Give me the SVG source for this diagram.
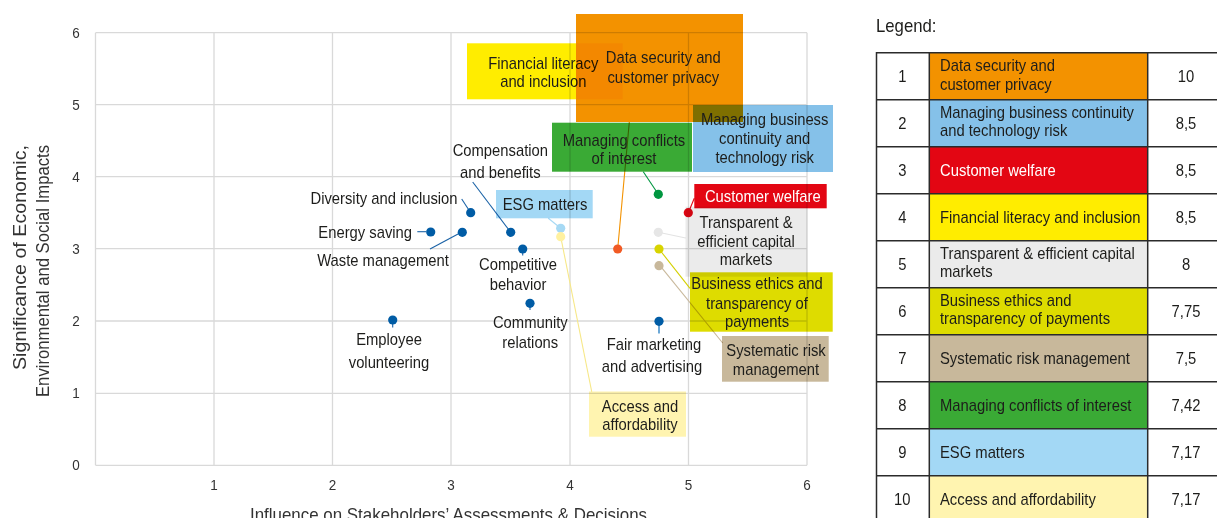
<svg xmlns="http://www.w3.org/2000/svg" width="1217" height="518" viewBox="0 0 1217 518">
<style>
text { font-family: "Liberation Sans", Arial, sans-serif; fill: #1d1d1b; }
.lbl { font-size: 17px; text-anchor: middle; }
.lg { font-size: 17px; }
.num { font-size: 17px; text-anchor: middle; }
.tick { font-size: 15px; text-anchor: middle; fill: #333333; }
.title { font-size: 18.5px; text-anchor: middle; fill: #333333; }
.grid { stroke: #d9d9d9; stroke-width: 1.3; fill: none; }
.box { mix-blend-mode: multiply; }
.lead { fill: none; stroke-width: 1.1; }
.bl { stroke: #1a62a6; }
.pt { fill: #005ca5; }
.cell { stroke: #2b2b2b; stroke-width: 1.5; fill: none; }
</style>
<rect x="0" y="0" width="1217" height="518" fill="#ffffff"/>
<g id="grid" class="grid">
<path d="M95.5,32.7V465.3M214,32.7V465.3M332.5,32.7V465.3M451,32.7V465.3M570,32.7V465.3M688.5,32.7V465.3M807,32.7V465.3"/>
<path d="M95.5,32.7H807M95.5,104.7H807M95.5,176.7H807M95.5,248.7H807M95.5,321H807M95.5,393.3H807M95.5,465.3H807"/>
</g>
<g id="axes">
<text class="tick" transform="translate(76,38) scale(0.9,1)">6</text>
<text class="tick" transform="translate(76,110) scale(0.9,1)">5</text>
<text class="tick" transform="translate(76,182) scale(0.9,1)">4</text>
<text class="tick" transform="translate(76,254) scale(0.9,1)">3</text>
<text class="tick" transform="translate(76,326) scale(0.9,1)">2</text>
<text class="tick" transform="translate(76,398) scale(0.9,1)">1</text>
<text class="tick" transform="translate(76,470) scale(0.9,1)">0</text>
<text class="tick" transform="translate(214,490) scale(0.9,1)">1</text>
<text class="tick" transform="translate(332.5,490) scale(0.9,1)">2</text>
<text class="tick" transform="translate(451,490) scale(0.9,1)">3</text>
<text class="tick" transform="translate(570,490) scale(0.9,1)">4</text>
<text class="tick" transform="translate(688.5,490) scale(0.9,1)">5</text>
<text class="tick" transform="translate(807,490) scale(0.9,1)">6</text>
<text class="title" x="448.5" y="521" textLength="397" lengthAdjust="spacingAndGlyphs">Influence on Stakeholders’ Assessments &amp; Decisions</text>
<text class="title" transform="translate(26,257.5) rotate(-90)" textLength="225" lengthAdjust="spacingAndGlyphs">Significance of Economic,</text>
<text class="title" transform="translate(49,271) rotate(-90)" textLength="252" lengthAdjust="spacingAndGlyphs">Environmental and Social Impacts</text>
</g>
<g id="connectors" class="lead">
<path class="bl" d="M417.3,231.7H426"/>
<path class="bl" d="M430,249L459,233.5"/>
<path class="bl" d="M461.7,199L470.7,212.7"/>
<path class="bl" d="M472.7,182L510.7,232.3"/>
<path class="bl" d="M522.7,249V255.5"/>
<path class="bl" d="M530,303.3V310"/>
<path stroke="#5d9fd3" stroke-width="1.8" d="M659,321.3V333.5"/>
<path class="bl" d="M392.7,320V327.5"/>
<path stroke="#a6d9f4" d="M548.3,218.3L560.7,228.3"/>
<path stroke="#f7e88a" d="M560.7,236.7L591.7,391.7"/>
<path stroke="#f39200" d="M629.3,122L617.7,249"/>
<path stroke="#009640" d="M643.3,171.7L658.3,194.3"/>
<path stroke="#e30613" d="M688.3,212.7L694.3,198.3"/>
<path stroke="#e3e3e3" d="M658.3,232.3L685.7,238"/>
<path stroke="#d4d000" d="M659,249L690,288.3"/>
<path stroke="#c8b89b" d="M660,265.7L722.7,343"/>
</g>
<g id="n-financial-literacy">
<rect class="box" x="467" y="43.3" width="155.7" height="56" fill="#ffed00"/>
<text class="lbl" transform="translate(543.3,69.3) scale(0.87,1)">Financial literacy</text>
<text class="lbl" transform="translate(543.3,87) scale(0.87,1)">and inclusion</text>
</g>
<g id="n-data-security">
<rect class="box" x="576" y="14" width="167" height="108" fill="#f39200"/>
<text class="lbl" transform="translate(663.3,63.3) scale(0.87,1)">Data security and</text>
<text class="lbl" transform="translate(663.3,82.7) scale(0.87,1)">customer privacy</text>
<circle cx="617.7" cy="249" r="4.6" fill="#f15a24"/>
</g>
<g id="n-business-continuity">
<rect class="box" x="693" y="105" width="140" height="67" fill="#85c1e9"/>
<text class="lbl" transform="translate(764.7,125) scale(0.87,1)">Managing business</text>
<text class="lbl" transform="translate(764.7,144.3) scale(0.87,1)">continuity and</text>
<text class="lbl" transform="translate(764.7,162.7) scale(0.87,1)">technology risk</text>
</g>
<g id="n-conflicts">
<rect class="box" x="552" y="122.7" width="140" height="49" fill="#3aaa35"/>
<text class="lbl" transform="translate(624,146) scale(0.87,1)">Managing conflicts</text>
<text class="lbl" transform="translate(624,164.3) scale(0.87,1)">of interest</text>
<circle cx="658.3" cy="194.3" r="4.6" fill="#009640"/>
</g>
<g id="n-customer-welfare">
<rect class="box" x="694.3" y="184" width="132.4" height="24.3" fill="#e30613"/>
<text class="lbl" transform="translate(762.8,202) scale(0.87,1)" style="fill:#ffffff">Customer welfare</text>
<circle cx="688.3" cy="212.7" r="4.6" fill="#e30613"/>
</g>
<g id="n-transparent">
<rect class="box" x="685.5" y="206.7" width="121.8" height="70" fill="#ebebeb"/>
<text class="lbl" transform="translate(746,227.7) scale(0.87,1)">Transparent &amp;</text>
<text class="lbl" transform="translate(746,247) scale(0.87,1)">efficient capital</text>
<text class="lbl" transform="translate(746,265.3) scale(0.87,1)">markets</text>
<circle cx="658.3" cy="232.3" r="4.6" fill="#e6e6e6"/>
</g>
<g id="n-business-ethics">
<rect class="box" x="690" y="272.3" width="142.7" height="59.4" fill="#dedc00"/>
<text class="lbl" transform="translate(757,289.3) scale(0.87,1)">Business ethics and</text>
<text class="lbl" transform="translate(757,308.7) scale(0.87,1)">transparency of</text>
<text class="lbl" transform="translate(757,327) scale(0.87,1)">payments</text>
<circle cx="659" cy="249" r="4.6" fill="#d8d400"/>
</g>
<g id="n-systematic-risk">
<rect class="box" x="722" y="336" width="106.7" height="45.7" fill="#c8b89b"/>
<text class="lbl" transform="translate(776,356) scale(0.87,1)">Systematic risk</text>
<text class="lbl" transform="translate(776,375.3) scale(0.87,1)">management</text>
<circle cx="659" cy="265.7" r="4.6" fill="#c8b89b"/>
</g>
<g id="n-esg">
<rect class="box" x="496" y="190" width="96.7" height="28.3" fill="#a3d8f5"/>
<text class="lbl" transform="translate(545,210) scale(0.87,1)">ESG matters</text>
<circle cx="560.7" cy="228.3" r="4.6" fill="#a6d9f4"/>
</g>
<g id="n-access">
<rect class="box" x="589" y="391.5" width="97" height="45.2" fill="#fff4b0"/>
<text class="lbl" transform="translate(640,411.5) scale(0.87,1)">Access and</text>
<text class="lbl" transform="translate(640,429.5) scale(0.87,1)">affordability</text>
<circle cx="560.7" cy="236.7" r="4.6" fill="#fff1a0"/>
</g>
<g id="n-energy-saving">
<circle class="pt" cx="430.7" cy="232" r="4.6"/>
<text class="lbl" transform="translate(412,237.7) scale(0.87,1)" style="text-anchor:end">Energy saving</text>
</g>
<g id="n-waste-management">
<circle class="pt" cx="462.3" cy="232.3" r="4.6"/>
<text class="lbl" transform="translate(383,266) scale(0.87,1)">Waste management</text>
</g>
<g id="n-diversity">
<circle class="pt" cx="470.7" cy="212.7" r="4.6"/>
<text class="lbl" transform="translate(384,204.3) scale(0.87,1)">Diversity and inclusion</text>
</g>
<g id="n-compensation">
<circle class="pt" cx="510.7" cy="232.3" r="4.6"/>
<text class="lbl" transform="translate(500.3,156) scale(0.87,1)">Compensation</text>
<text class="lbl" transform="translate(500.3,177.7) scale(0.87,1)">and benefits</text>
</g>
<g id="n-competitive">
<circle class="pt" cx="522.7" cy="249" r="4.6"/>
<text class="lbl" transform="translate(518,270) scale(0.87,1)">Competitive</text>
<text class="lbl" transform="translate(518,290.3) scale(0.87,1)">behavior</text>
</g>
<g id="n-community">
<circle class="pt" cx="530" cy="303.3" r="4.6"/>
<text class="lbl" transform="translate(530.3,327.7) scale(0.87,1)">Community</text>
<text class="lbl" transform="translate(530.3,348.3) scale(0.87,1)">relations</text>
</g>
<g id="n-fair-marketing">
<circle class="pt" cx="659" cy="321.3" r="4.6"/>
<text class="lbl" transform="translate(654,350.3) scale(0.87,1)">Fair marketing</text>
<text class="lbl" transform="translate(652,371.7) scale(0.87,1)">and advertising</text>
</g>
<g id="n-employee">
<circle class="pt" cx="392.7" cy="320" r="4.6"/>
<text class="lbl" transform="translate(389,345.3) scale(0.87,1)">Employee</text>
<text class="lbl" transform="translate(389,367.7) scale(0.87,1)">volunteering</text>
</g>
<g id="legend">
<text transform="translate(876,32) scale(0.93,1)" style="font-size:18px">Legend:</text>
<rect x="929.3" y="52.7" width="218.4" height="47" fill="#f39200"/>
<rect x="929.3" y="99.7" width="218.4" height="47" fill="#85c1e9"/>
<rect x="929.3" y="146.7" width="218.4" height="47" fill="#e30613"/>
<rect x="929.3" y="193.7" width="218.4" height="47" fill="#ffed00"/>
<rect x="929.3" y="240.7" width="218.4" height="47" fill="#ebebeb"/>
<rect x="929.3" y="287.7" width="218.4" height="47" fill="#dedc00"/>
<rect x="929.3" y="334.7" width="218.4" height="47" fill="#c8b89b"/>
<rect x="929.3" y="381.7" width="218.4" height="47" fill="#3aaa35"/>
<rect x="929.3" y="428.7" width="218.4" height="47" fill="#a3d8f5"/>
<rect x="929.3" y="475.7" width="218.4" height="47" fill="#fff4b0"/>
<path class="cell" d="M876,52.7H1217M876,99.7H1217M876,146.7H1217M876,193.7H1217M876,240.7H1217M876,287.7H1217M876,334.7H1217M876,381.7H1217M876,428.7H1217M876,475.7H1217"/>
<path class="cell" d="M876.5,52V518M929.3,52V518M1147.7,52V518"/>
<text class="num" transform="translate(902.3,82.2) scale(0.87,1)">1</text>
<text class="num" transform="translate(902.3,129.2) scale(0.87,1)">2</text>
<text class="num" transform="translate(902.3,176.2) scale(0.87,1)">3</text>
<text class="num" transform="translate(902.3,223.2) scale(0.87,1)">4</text>
<text class="num" transform="translate(902.3,270.2) scale(0.87,1)">5</text>
<text class="num" transform="translate(902.3,317.2) scale(0.87,1)">6</text>
<text class="num" transform="translate(902.3,364.2) scale(0.87,1)">7</text>
<text class="num" transform="translate(902.3,411.2) scale(0.87,1)">8</text>
<text class="num" transform="translate(902.3,458.2) scale(0.87,1)">9</text>
<text class="num" transform="translate(902.3,505.2) scale(0.87,1)">10</text>
<text class="lg" transform="translate(940,71) scale(0.87,1)">Data security and</text>
<text class="lg" transform="translate(940,89.5) scale(0.87,1)">customer privacy</text>
<text class="lg" transform="translate(940,117.5) scale(0.87,1)">Managing business continuity</text>
<text class="lg" transform="translate(940,136) scale(0.87,1)">and technology risk</text>
<text class="lg" transform="translate(940,176.2) scale(0.87,1)" style="fill:#ffffff">Customer welfare</text>
<text class="lg" transform="translate(940,223.2) scale(0.87,1)">Financial literacy and inclusion</text>
<text class="lg" transform="translate(940,258.5) scale(0.87,1)">Transparent &amp; efficient capital</text>
<text class="lg" transform="translate(940,277) scale(0.87,1)">markets</text>
<text class="lg" transform="translate(940,305.5) scale(0.87,1)">Business ethics and</text>
<text class="lg" transform="translate(940,324) scale(0.87,1)">transparency of payments</text>
<text class="lg" transform="translate(940,364.2) scale(0.87,1)">Systematic risk management</text>
<text class="lg" transform="translate(940,411.2) scale(0.87,1)">Managing conflicts of interest</text>
<text class="lg" transform="translate(940,458.2) scale(0.87,1)">ESG matters</text>
<text class="lg" transform="translate(940,505.2) scale(0.87,1)">Access and affordability</text>
<text class="num" transform="translate(1186,82.2) scale(0.87,1)">10</text>
<text class="num" transform="translate(1186,129.2) scale(0.87,1)">8,5</text>
<text class="num" transform="translate(1186,176.2) scale(0.87,1)">8,5</text>
<text class="num" transform="translate(1186,223.2) scale(0.87,1)">8,5</text>
<text class="num" transform="translate(1186,270.2) scale(0.87,1)">8</text>
<text class="num" transform="translate(1186,317.2) scale(0.87,1)">7,75</text>
<text class="num" transform="translate(1186,364.2) scale(0.87,1)">7,5</text>
<text class="num" transform="translate(1186,411.2) scale(0.87,1)">7,42</text>
<text class="num" transform="translate(1186,458.2) scale(0.87,1)">7,17</text>
<text class="num" transform="translate(1186,505.2) scale(0.87,1)">7,17</text>
</g>
</svg>
